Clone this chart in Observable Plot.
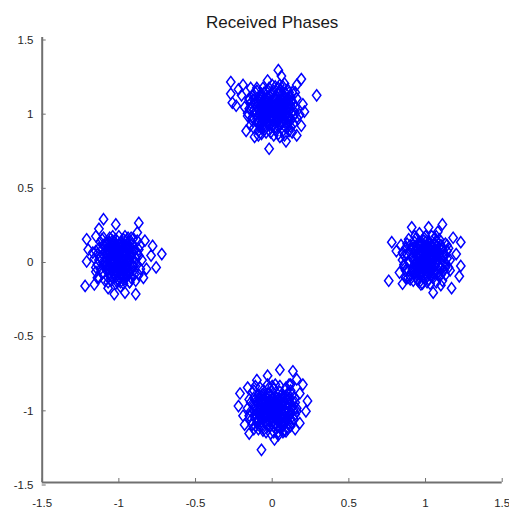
<!DOCTYPE html>
<html>
<head>
<meta charset="utf-8">
<script src="https://cdn.jsdelivr.net/npm/d3@7"></script>
<script src="https://cdn.jsdelivr.net/npm/@observablehq/plot@0.6"></script>
<style>
  html, body { margin: 0; padding: 0; background: #fff; }
</style>
</head>
<body>
<div id="chart"></div>
<script>
const title = "Received Phases";
const xTicks = [-1.5, -1, -0.5, 0, 0.5, 1, 1.5];
const yTicks = [-1.5, -1, -0.5, 0, 0.5, 1, 1.5];

const topCluster = [
  [0.04,1.28],[0.19,1.22],[0.29,1.11],[-0.27,1.20],[-0.27,1.12],[-0.19,1.18],[-0.20,1.11],[-0.26,1.06],[-0.18,1.03],[-0.235,1.04],
  [-0.10,1.14],[-0.03,1.21],[0.08,1.19],[-0.17,0.87],[-0.115,0.83],[-0.02,0.75],[0.05,0.83],[0.16,0.84],[0.19,0.905],[0.20,1.05],
  [0.18,0.98],[-0.06,0.89],[0.10,0.92],[-0.22,1.15],[-0.15,1.08],[-0.14,1.16],[-0.16,0.97],[0.15,1.13],[0.16,1.18],[0.06,1.24],
  [0.21,1.00],[0.09,0.80],
  [0.00,1.00],[0.03,0.97],[-0.04,1.02],[0.06,1.04],[-0.07,0.96],[0.02,1.08],[-0.02,0.93],[0.09,0.99],[-0.10,1.03],[0.05,0.91],
  [-0.05,1.09],[0.11,1.06],[-0.08,0.90],[0.07,1.11],[-0.01,1.12],[0.12,0.94],[-0.11,0.98],[0.04,1.01],[-0.03,0.99],[0.08,0.95],
  [0.01,0.95],[-0.06,1.05],[0.10,1.02],[-0.09,1.07],[0.03,1.05],[-0.04,0.95],[0.06,0.98],[-0.02,1.04],[0.00,0.90],[0.05,1.13],
  [-0.07,1.12],[0.13,1.00],[-0.12,1.01],[0.02,0.88],[-0.05,0.88],[0.09,0.89],[0.08,1.08],[-0.09,0.93],[0.01,1.03],[-0.01,0.97],
  [0.04,0.94],[-0.06,1.00],[0.07,1.01],[-0.03,1.07],[0.11,0.97],[-0.10,0.95],[0.03,1.10],[-0.08,1.10],[0.06,0.92],[0.00,1.06],
  [-0.02,0.91],[0.10,1.09],[-0.11,1.05],[0.05,0.96],[-0.04,1.14],[0.12,1.04],[-0.07,0.93],[0.02,0.99],[-0.05,1.02],[0.08,1.03],
  [0.14,0.97],[-0.13,0.96],[0.04,1.16],[-0.01,0.86],[0.07,0.87],[-0.09,1.01],[0.01,1.14],[0.10,0.92],[-0.06,0.97],[0.03,0.93],
  [-0.02,1.01],[0.06,1.06],[-0.08,1.04],[0.09,1.12],[-0.03,1.10],[0.12,1.10],[-0.12,1.08],[0.00,0.94],[0.05,1.02],[-0.06,0.91],
  [0.015,1.005],[-0.025,0.985],[0.035,1.025],[-0.045,1.045],[0.055,0.965],[-0.065,1.015],[0.075,1.055],[-0.015,1.065],[0.025,0.945],[-0.085,0.975],
  [0.095,1.015],[-0.035,0.925],[0.045,1.075],[-0.055,1.075],[0.065,0.925],[-0.075,1.035],[0.085,0.975],[0.005,1.035],[-0.005,0.965],[0.035,0.985],
  [-0.095,1.055],[0.105,1.045],[-0.025,1.025],[0.015,1.095],[-0.045,0.975],[0.055,1.045],[-0.065,0.945],[0.025,1.055],[0.075,0.945],[-0.035,1.055],
  [0.005,0.915],[-0.015,1.105],[0.045,0.915],[-0.085,1.085],[0.095,0.955],[-0.055,1.125],[0.065,1.085],[-0.105,1.005],[0.115,1.015],[0.035,1.125],
  [-0.075,0.915],[0.005,1.075],[-0.035,1.005],[0.055,1.005],[0.085,1.095],[-0.005,1.045],[0.025,1.015],[-0.055,0.985],[0.045,1.035],[-0.015,0.955],
  [0.065,1.025],[-0.095,0.925],[0.105,0.935],[-0.025,1.085],[0.015,0.975],[-0.065,1.095],[0.075,0.985],[0.035,0.905],[-0.045,0.905],[0.095,1.075],
  [0.13,1.07],[0.14,0.92],[-0.13,1.11],[-0.14,0.91],[0.15,1.03],[-0.15,1.02],[0.02,1.17],[-0.06,1.16],[0.10,1.15],[0.01,0.84],
  [-0.09,0.87],[0.11,0.87],[0.16,0.96],[-0.14,1.06],[0.07,1.17],[-0.11,1.13],[0.13,1.13],[-0.12,0.89],[0.04,0.85],[-0.04,0.86],
  [0.16,1.09],[-0.16,0.99],[0.12,0.90],[-0.10,1.16],[0.00,1.18],[0.15,0.99],[-0.13,0.94],[0.08,0.84],[-0.07,0.85],[0.14,1.05],
  [-0.02,1.16],[0.11,1.13],[-0.15,1.09],[0.05,1.18],[-0.09,0.84],[0.13,0.86]
];

const leftCluster = [
  [-1.10,0.275],[-1.21,0.14],[-1.20,0.07],[-1.21,-0.01],[-1.22,-0.175],[-1.16,-0.165],[-1.14,-0.12],[-1.03,-0.23],[-0.96,-0.22],[-0.89,-0.23],
  [-0.93,-0.15],[-0.72,0.04],[-0.79,0.03],[-0.757,-0.05],[-0.78,0.095],[-0.87,0.25],[-0.88,0.185],[-0.84,-0.12],[-1.15,0.16],[-1.02,0.24],
  [-1.17,0.05],[-1.15,-0.05],[-0.82,-0.06],[-0.83,0.13],[-1.07,-0.19],[-0.99,-0.18],[-1.13,0.21],
  [-1.00,0.00],[-0.97,0.03],[-1.03,-0.02],[-0.95,-0.05],[-1.06,0.05],[-0.99,0.08],[-1.02,-0.08],[-0.92,0.02],[-1.09,-0.01],[-0.96,0.10],
  [-1.04,0.11],[-0.93,-0.09],[-1.08,-0.07],[-0.98,-0.11],[-1.11,0.07],[-0.90,0.06],[-1.01,0.04],[-0.98,-0.03],[-1.05,0.01],[-0.94,0.00],
  [-1.07,0.09],[-1.00,-0.06],[-0.96,0.06],[-1.03,0.06],[-0.91,-0.04],[-1.10,-0.04],[-0.99,0.12],[-1.05,-0.11],[-0.94,0.09],[-1.02,0.02],
  [-0.97,-0.08],[-1.12,0.02],[-0.89,0.01],[-1.06,-0.04],[-0.95,0.03],[-1.01,-0.13],[-1.04,0.13],[-0.92,-0.12],[-1.08,0.12],[-0.93,0.12],
  [-1.00,0.07],[-0.98,0.01],[-1.03,-0.05],[-0.96,-0.02],[-1.07,0.03],[-1.01,-0.10],[-0.94,-0.07],[-1.09,0.05],[-0.97,0.14],[-1.05,0.08],
  [-0.90,-0.02],[-1.11,-0.09],[-0.99,-0.05],[-1.02,0.10],[-0.95,-0.10],[-1.06,-0.09],[-0.92,0.08],[-1.13,0.00],[-0.88,0.04],[-1.00,0.02],
  [-0.98,0.05],[-1.04,-0.01],[-0.96,-0.13],[-1.07,-0.12],[-0.91,0.11],[-1.10,0.10],[-1.02,0.14],[-0.94,-0.01],[-1.05,0.04],[-0.99,-0.02],
  [-1.03,0.08],[-0.97,-0.06],[-1.08,-0.03],[-0.93,0.05],[-1.01,0.06],[-0.95,0.13],[-1.06,0.12],[-1.00,-0.09],[-0.98,0.10],[-1.04,-0.07],
  [-0.985,0.015],[-1.015,-0.025],[-0.965,-0.035],[-1.035,0.035],[-0.945,0.045],[-1.055,-0.055],[-0.995,0.065],[-1.025,-0.075],[-0.935,-0.015],[-1.065,0.015],
  [-0.975,-0.065],[-1.045,0.075],[-0.955,0.085],[-1.005,-0.045],[-0.925,0.025],[-1.075,-0.025],[-0.985,-0.095],[-1.015,0.095],[-0.945,-0.055],[-1.085,0.055],
  [-0.965,0.025],[-1.035,-0.015],[-0.995,0.035],[-1.005,0.055],[-0.955,-0.085],[-1.065,-0.065],[-0.915,0.055],[-1.095,0.025],[-0.975,0.095],[-1.025,0.045],
  [-0.985,-0.025],[-1.045,-0.035],[-0.935,0.075],[-1.055,0.095],[-0.965,-0.105],[-1.015,0.005],[-0.905,-0.045],[-1.085,-0.045],[-0.995,-0.075],[-1.035,0.065],
  [-0.955,0.005],[-1.075,0.075],[-0.945,0.105],[-1.005,-0.015],[-0.925,-0.075],[-1.025,-0.105],[-0.975,0.045],[-1.065,0.045],[-0.985,0.085],[-1.045,0.005],
  [-0.915,-0.025],[-1.105,-0.015],[-0.965,0.065],[-1.015,-0.055],[-0.935,-0.095],[-1.055,0.025],[-0.995,0.105],[-1.035,-0.085],[-0.955,-0.035],[-1.005,0.025],
  [-0.87,0.07],[-0.86,-0.06],[-1.14,0.04],[-1.15,-0.08],[-1.12,0.12],[-0.88,0.13],[-1.00,0.16],[-1.06,0.15],[-0.92,0.15],[-1.02,-0.16],
  [-0.93,-0.15],[-1.09,-0.14],[-0.87,-0.10],[-1.13,-0.12],[-0.85,0.00],[-1.16,0.01],[-0.97,-0.16],[-1.04,0.16],[-0.89,-0.14],[-1.11,0.14],
  [-0.86,0.10],[-1.14,-0.03],[-0.99,-0.15],[-1.07,-0.15],[-0.91,0.14],[-1.10,0.15],[-0.96,0.16],[-0.88,-0.03],[-1.13,0.08],[-1.05,-0.14],
  [-0.90,-0.10],[-1.12,-0.06],[-0.94,0.15],[-1.01,-0.15],[-0.87,0.03],[-1.15,0.06]
];

const rightCluster = [
  [1.11,0.24],[0.76,-0.14],[0.78,0.12],[0.81,0.06],[0.83,-0.085],[1.23,0.12],[1.20,0.04],[1.23,-0.04],[1.22,-0.11],[1.17,-0.19],
  [1.05,-0.22],[0.97,-0.165],[0.885,-0.12],[0.91,0.22],[1.02,0.22],[1.18,0.15],[0.84,0.10],[1.16,-0.07],[1.15,0.08],[0.86,-0.04],
  [1.10,-0.17],[0.96,0.18],[1.08,0.19],[0.85,-0.16],
  [1.00,0.00],[1.03,-0.02],[0.97,0.03],[1.05,0.05],[0.94,-0.04],[1.01,-0.08],[0.98,0.08],[1.08,0.01],[0.91,0.02],[1.04,-0.10],
  [0.96,0.11],[1.07,0.09],[0.93,-0.09],[1.10,-0.05],[0.99,-0.12],[1.02,0.12],[0.90,0.07],[1.12,0.03],[1.00,0.05],[0.97,-0.03],
  [1.06,-0.04],[0.95,0.05],[1.03,0.07],[0.99,0.02],[1.08,-0.08],[0.92,-0.06],[1.01,0.10],[0.96,-0.10],[1.11,0.08],[0.89,-0.01],
  [1.05,0.01],[0.98,-0.06],[1.04,0.04],[0.94,0.09],[1.09,-0.11],[1.02,-0.13],[0.93,0.12],[1.07,0.13],[0.90,-0.11],[1.13,-0.02],
  [1.00,-0.04],[1.02,0.02],[0.97,0.06],[1.06,0.06],[0.95,-0.07],[1.03,-0.06],[0.99,0.09],[1.09,0.04],[0.92,0.00],[1.01,-0.11],
  [0.96,0.01],[1.07,-0.01],[0.94,0.03],[1.04,0.10],[0.98,-0.09],[1.10,0.10],[0.91,-0.08],[1.05,-0.12],[0.99,0.13],[1.12,-0.07],
  [0.88,0.04],[1.01,0.07],[0.97,-0.01],[1.03,-0.03],[0.95,-0.13],[1.08,0.06],[0.93,0.06],[1.06,-0.09],[1.00,0.12],[0.96,-0.05],
  [1.11,-0.03],[0.90,0.10],[1.02,0.05],[0.98,0.04],[1.04,-0.07],[0.94,-0.01],[1.07,0.03],[0.99,-0.07],[1.01,0.01],[1.14,0.01],
  [1.015,0.005],[0.985,-0.025],[1.035,0.025],[0.965,0.035],[1.055,-0.035],[0.945,-0.015],[1.005,0.065],[1.025,-0.065],[0.975,-0.075],[1.065,0.045],
  [0.935,0.055],[1.045,-0.085],[0.995,0.095],[1.075,-0.015],[0.925,-0.035],[1.015,0.085],[0.955,0.075],[1.085,0.025],[0.985,0.015],[1.035,-0.045],
  [0.965,-0.055],[1.055,0.065],[1.005,-0.095],[0.915,0.015],[1.095,-0.055],[0.975,0.055],[1.025,0.045],[0.945,-0.085],[1.065,-0.075],[0.995,-0.035],
  [1.045,0.095],[0.935,-0.065],[1.015,-0.015],[0.955,0.095],[1.085,0.085],[0.985,0.045],[1.105,0.005],[0.925,0.085],[1.035,0.005],[0.965,-0.095],
  [1.005,0.025],[1.075,-0.095],[0.945,0.025],[1.025,0.105],[0.995,-0.005],[1.055,0.015],[0.975,-0.015],[1.045,-0.025],[0.915,-0.065],[1.095,0.045],
  [0.985,0.075],[1.015,-0.045],[0.955,-0.025],[1.065,0.105],[1.035,-0.105],[0.935,0.005],[1.005,0.045],[0.975,0.105],[1.085,-0.035],[1.025,0.015],
  [1.14,0.06],[1.15,-0.05],[0.86,0.03],[0.87,-0.07],[0.88,0.11],[1.13,0.11],[1.00,0.16],[0.94,0.15],[1.07,0.16],[0.98,-0.16],
  [1.07,-0.15],[0.92,-0.14],[1.13,-0.10],[0.87,-0.12],[1.16,0.00],[0.85,0.00],[1.03,-0.16],[0.96,-0.15],[1.11,-0.14],[0.89,0.14],
  [1.14,0.10],[0.86,-0.03],[1.01,-0.15],[0.93,0.16],[1.09,0.14],[0.90,-0.13],[1.04,0.16],[1.12,0.03],[0.87,0.08],[0.95,-0.14],
  [1.10,-0.10],[0.88,-0.06],[1.06,0.15],[0.99,0.15],[1.13,-0.05],[0.85,0.05]
];

const bottomCluster = [
  [0.05,-0.74],[0.135,-0.75],[0.16,-0.805],[-0.03,-0.78],[-0.10,-0.81],[-0.21,-0.90],[-0.22,-0.985],[-0.18,-1.11],[-0.15,-1.17],[-0.07,-1.28],
  [0.015,-1.21],[0.09,-1.155],[0.18,-1.10],[0.23,-0.95],[0.22,-1.02],[0.12,-0.84],[-0.16,-0.86],[-0.12,-1.14],[0.15,-1.14],[0.18,-0.90],
  [-0.19,-1.05],[0.04,-1.18],[0.20,-0.84],
  [0.00,-1.00],[0.03,-1.03],[-0.03,-0.97],[0.05,-0.95],[-0.06,-1.04],[0.08,-1.01],[-0.02,-1.08],[0.02,-0.92],[-0.09,-0.99],[0.10,-1.06],
  [-0.05,-0.91],[0.06,-1.10],[-0.11,-1.07],[0.11,-0.93],[-0.08,-0.94],[0.01,-1.12],[-0.12,-1.01],[0.13,-0.99],[0.04,-0.98],[-0.04,-1.01],
  [0.07,-1.04],[-0.01,-0.95],[0.09,-0.97],[-0.07,-1.09],[0.02,-1.06],[-0.10,-0.95],[0.05,-0.89],[-0.03,-1.11],[0.12,-1.03],[-0.06,-0.88],
  [0.00,-0.94],[0.08,-1.08],[-0.04,-0.96],[0.03,-1.00],[-0.08,-1.02],[0.06,-0.97],[-0.01,-1.04],[0.10,-0.90],[-0.13,-0.97],[0.01,-0.87],
  [-0.05,-1.06],[0.07,-0.92],[-0.02,-1.00],[0.04,-1.08],[-0.09,-0.91],[0.11,-1.10],[-0.11,-1.04],[0.02,-0.96],[-0.06,-1.13],[0.09,-1.02],
  [0.05,-1.13],[-0.03,-0.90],[0.13,-0.95],[-0.07,-0.98],[0.00,-1.09],[0.06,-1.01],[-0.10,-1.10],[0.03,-0.93],[-0.04,-1.03],[0.08,-0.96],
  [-0.01,-0.99],[0.12,-1.07],[-0.12,-0.93],[0.04,-1.04],[-0.05,-0.94],[0.10,-1.00],[-0.08,-1.06],[0.01,-1.02],[0.07,-1.12],[-0.02,-0.86],
  [0.14,-1.01],[-0.09,-1.08],[0.05,-1.00],[-0.03,-1.05],[0.02,-1.10],[-0.07,-0.92],[0.09,-0.94],[-0.01,-1.07],[0.06,-0.94],[-0.14,-1.02],
  [0.005,-0.985],[-0.025,-1.015],[0.035,-1.035],[-0.045,-0.965],[0.055,-1.055],[-0.015,-0.945],[0.065,-0.985],[-0.065,-1.025],[0.025,-1.075],[-0.085,-1.045],
  [0.085,-1.025],[-0.035,-1.055],[0.045,-0.935],[-0.055,-0.935],[0.015,-1.045],[-0.095,-0.965],[0.095,-1.085],[-0.005,-1.025],[0.025,-0.965],[-0.025,-1.085],
  [0.075,-0.955],[-0.075,-0.955],[0.035,-0.995],[-0.045,-1.095],[0.105,-0.965],[-0.105,-1.015],[0.055,-1.025],[-0.015,-0.915],[0.015,-1.105],[-0.065,-1.065],
  [0.065,-1.065],[-0.035,-0.995],[0.005,-0.925],[-0.085,-0.925],[0.085,-0.925],[-0.005,-1.055],[0.045,-1.095],[-0.055,-1.005],[0.115,-1.045],[-0.115,-0.985],
  [0.025,-1.015],[-0.025,-0.975],[0.075,-1.095],[-0.075,-1.115],[0.045,-0.975],[-0.045,-1.035],[0.015,-0.955],[-0.095,-1.075],[0.095,-0.995],[-0.005,-0.955],
  [0.055,-0.915],[-0.065,-0.905],[0.035,-1.125],[-0.015,-1.125],[0.065,-1.035],[-0.035,-0.935],[0.005,-1.065],[0.085,-1.055],[-0.055,-1.045],[0.105,-1.025],
  [0.14,-1.07],[0.15,-0.93],[-0.14,-1.08],[-0.15,-0.94],[-0.13,-0.89],[0.12,-0.88],[0.01,-1.16],[-0.06,-1.15],[0.08,-1.15],[0.02,-0.84],
  [-0.08,-0.86],[0.09,-0.86],[0.16,-1.00],[-0.16,-1.00],[-0.11,-1.12],[0.12,-1.12],[0.05,-0.85],[-0.03,-0.84],[-0.01,-1.17],[0.15,-1.04],
  [-0.15,-1.05],[0.13,-0.91],[-0.12,-0.88],[0.10,-1.14],[-0.09,-1.14],[0.04,-1.16],[-0.04,-1.16],[0.11,-0.84],[-0.11,-0.85],[0.15,-0.96],
  [-0.14,-0.96],[0.07,-1.16],[0.00,-0.85],[-0.13,-1.11],[0.13,-1.10],[0.16,-1.02]
];

const points = [...topCluster, ...leftCluster, ...rightCluster, ...bottomCluster];

// MATLAB-style diamond marker (taller than wide)
const diamond = {
  draw(context, size) {
    const r = Math.sqrt(size / Math.PI);
    const w = r * 0.75;
    context.moveTo(0, -r);
    context.lineTo(w, 0);
    context.lineTo(0, r);
    context.lineTo(-w, 0);
    context.closePath();
  }
};

const axisGray = "#707070";
const textColor = "#262626";

const chart = Plot.plot({
  width: 509,
  height: 513,
  marginLeft: 41.7,
  marginRight: 7.3,
  marginTop: 37,
  marginBottom: 31,
  x: {domain: [-1.5, 1.5]},
  y: {domain: [-1.5, 1.5]},
  style: {
    fontFamily: "'Liberation Sans', Arial, sans-serif",
    fontSize: "11.5px",
    color: textColor,
    background: "white",
    overflow: "visible"
  },
  marks: [
    Plot.dot(points, {
      x: d => d[0],
      y: d => d[1],
      symbol: diamond,
      r: 5.6,
      stroke: "#0000ff",
      strokeWidth: 1.5,
      fill: "none"
    }),
    Plot.axisX({
      ticks: xTicks,
      tickFormat: d => String(d),
      tickSize: -4,
      tickPadding: 20,
      stroke: axisGray,
      fill: textColor
    }),
    Plot.axisY({
      ticks: yTicks,
      tickFormat: d => String(d),
      tickSize: -4,
      tickPadding: 12.7,
      dy: 2.5,
      stroke: axisGray,
      fill: textColor
    }),
    Plot.ruleX([-1.5], {stroke: axisGray, strokeWidth: 2}),
    Plot.ruleY([-1.5], {stroke: axisGray, strokeWidth: 2}),
    Plot.text([title], {
      frameAnchor: "top",
      lineAnchor: "middle",
      dy: -15,
      fontSize: 17,
      fill: "#1a1a1a"
    })
  ]
});

document.getElementById("chart").appendChild(chart);
</script>
</body>
</html>
